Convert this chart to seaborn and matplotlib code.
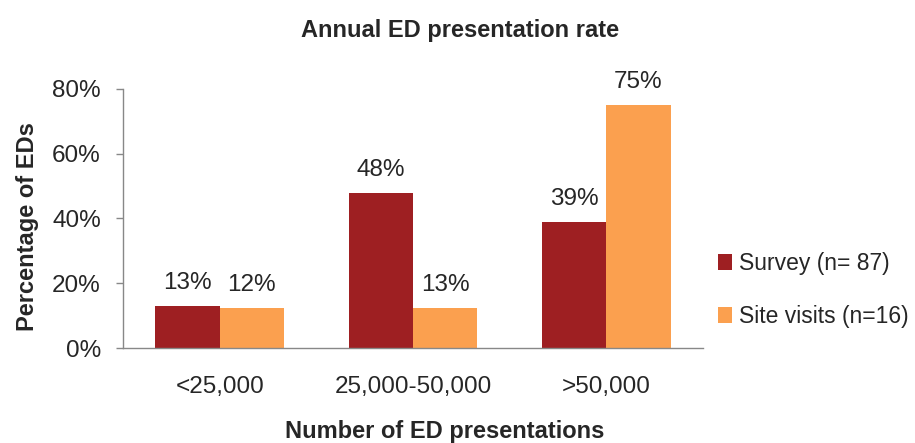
import pandas as pd
import matplotlib.pyplot as plt
import seaborn as sns

# data
categories = ['<25,000', '25,000-50,000', '>50,000']
survey = [13, 48, 39]
site_visits = [12.5, 12.5, 75]
survey_labels = ['13%', '48%', '39%']
site_labels = ['12%', '13%', '75%']
series_names = ['Survey (n= 87)', 'Site visits (n=16)']
colors = ['#9e1f22', '#fba04f']

df = pd.DataFrame({
    'group': categories * 2,
    'series': [series_names[0]] * 3 + [series_names[1]] * 3,
    'value': survey + site_visits,
})

sns.set_style('white')
plt.rcParams['font.family'] = ['Liberation Sans', 'DejaVu Sans']

fig = plt.figure(figsize=(9.15, 4.43), dpi=100)
ax = fig.add_axes([0.1344, 0.2144, 0.634, 0.585])

sns.barplot(data=df, x='group', y='value', hue='series', palette=colors,
            width=0.664, order=categories, hue_order=series_names, ax=ax,
            saturation=1, errorbar=None, linewidth=0)

# value labels
for cont, labels in zip(ax.containers, [survey_labels, site_labels]):
    for bar, lab in zip(cont, labels):
        ax.annotate(lab, (bar.get_x() + bar.get_width() / 2, bar.get_height()),
                    xytext=(0, 16.5), textcoords='offset points',
                    ha='center', va='center', fontsize=17.5)

ax.set_ylim(0, 80)
ax.set_yticks([0, 20, 40, 60, 80])
ax.set_yticklabels([f'{v}%' for v in [0, 20, 40, 60, 80]], fontsize=17.5)
ax.tick_params(axis='x', labelsize=17.5, length=0, pad=20)
ax.tick_params(axis='y', left=True, length=5, width=1, color='#888888', pad=11)
ax.set_xlim(-0.5, 2.5)

for s in ['top', 'right']:
    ax.spines[s].set_visible(False)
for s in ['left', 'bottom']:
    ax.spines[s].set_color('#888888')
    ax.spines[s].set_linewidth(1)

ax.set_xlabel('Number of ED presentations', fontsize=17, fontweight='bold', va='center')
ax.xaxis.set_label_coords(0.554, -0.324)
ax.set_ylabel('Percentage of EDs', fontsize=17, fontweight='bold', va='center')
ax.yaxis.set_label_coords(-0.164, 0.47)
fig.text(0.503, 0.932, 'Annual ED presentation rate', ha='center', va='center',
         fontsize=17, fontweight='bold')

leg = ax.legend(loc='center left', bbox_to_anchor=(1.01, 0.224), frameon=False,
                fontsize=16.5, handlelength=0.6, handleheight=0.7,
                handletextpad=0.3, labelspacing=1.3, borderaxespad=0)

fig.savefig('out.png', dpi=100)
